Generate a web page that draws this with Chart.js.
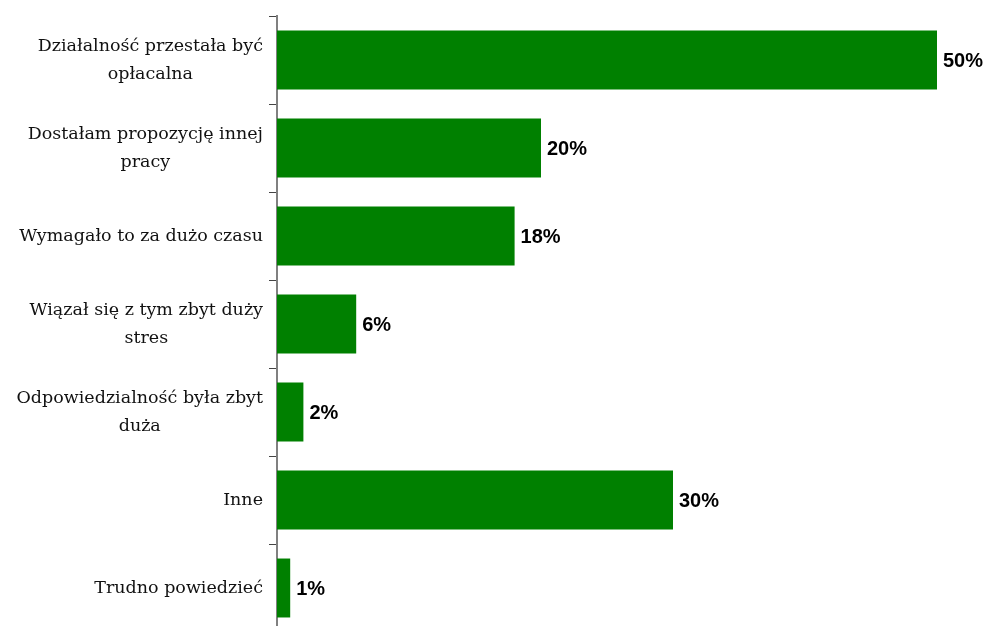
<!DOCTYPE html>
<html lang="pl">
<head>
<meta charset="utf-8">
<script src="https://cdn.jsdelivr.net/npm/chart.js@4.4.1/dist/chart.umd.min.js"></script>
<style>
  html, body { margin: 0; padding: 0; background: #fff; overflow: hidden; }
  #wrap { width: 986px; height: 650px; position: relative; }
</style>
</head>
<body>
<div id="wrap"><canvas id="reasonsChart"></canvas></div>
<script>
// Powody rezygnacji (odpowiedzi w %)
const categories = [
    ["Działalność przestała być", "opłacalna"],
    ["Dostałam propozycję innej", "pracy"],
    ["Wymagało to za dużo czasu"],
    ["Wiązał się z tym zbyt duży", "stres"],
    ["Odpowiedzialność była zbyt", "duża"],
    ["Inne"],
    ["Trudno powiedzieć"]
];
const values = [50, 20, 18, 6, 2, 30, 1];
const valueLabels = values.map(v => v + '%');

const LABEL_FONT = '17.5px "DejaVu Serif", serif';
const VALUE_FONT = 'bold 20px "Liberation Sans", Arial, sans-serif';

// Category labels: lines centred within their own block, block right-aligned to the axis
const categoryLabels = {
    id: 'categoryLabels',
    afterDraw(chart) {
        const ctx = chart.ctx;
        const y = chart.scales.y;
        const right = y.right - 14;
        ctx.save();
        ctx.font = LABEL_FONT;
        ctx.fillStyle = '#111';
        ctx.textBaseline = 'middle';
        ctx.textAlign = 'center';
        const lineH = 28;
        categories.forEach((lines, i) => {
            const cy = y.getPixelForValue(i);
            const w = Math.max(...lines.map(l => ctx.measureText(l).width));
            const cx = right - w / 2;
            const top = cy - (lines.length - 1) * lineH / 2;
            lines.forEach((l, j) => ctx.fillText(l, cx, top + j * lineH));
        });
        ctx.restore();
    }
};

// Value labels at the end of each bar
const barValues = {
    id: 'barValues',
    afterDatasetsDraw(chart) {
        const ctx = chart.ctx;
        const meta = chart.getDatasetMeta(0);
        ctx.save();
        ctx.font = VALUE_FONT;
        ctx.fillStyle = '#000';
        ctx.textAlign = 'left';
        ctx.textBaseline = 'middle';
        meta.data.forEach((bar, i) => {
            ctx.fillText(valueLabels[i], bar.x + 6, bar.y + 1);
        });
        ctx.restore();
    }
};

const ctx = document.getElementById('reasonsChart').getContext('2d');
const reasonsChart = new Chart(ctx, {
    type: 'bar',
    data: {
        labels: categories.map(c => c.join(' ')),
        datasets: [{
            data: values,
            backgroundColor: '#008000',
            borderWidth: 0,
            barPercentage: 0.67,
            categoryPercentage: 1.0
        }]
    },
    options: {
        indexAxis: 'y',
        responsive: true,
        maintainAspectRatio: false,
        animation: false,
        layout: { padding: { top: 16, bottom: 18, right: 49, left: 0 } },
        plugins: {
            legend: { display: false },
            tooltip: { enabled: false }
        },
        scales: {
            x: {
                display: false,
                min: 0,
                max: 50
            },
            y: {
                afterFit(scale) { scale.width = 277; },
                ticks: { display: false },
                grid: {
                    offset: true,
                    drawOnChartArea: false,
                    drawTicks: true,
                    tickLength: 8,
                    color: '#444',
                    lineWidth: 1
                },
                border: { display: true, color: '#808080', width: 2 }
            }
        }
    },
    plugins: [categoryLabels, barValues]
});
</script>
</body>
</html>
